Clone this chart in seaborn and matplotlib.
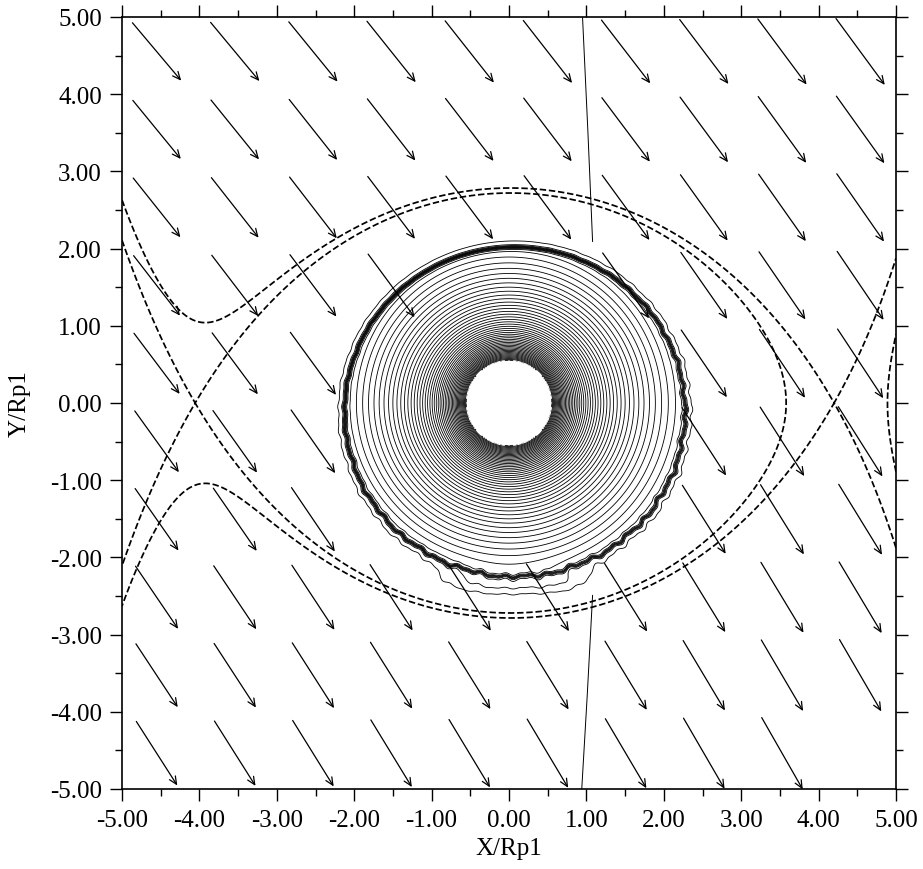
import numpy as np
import seaborn as sns
import matplotlib
matplotlib.use("Agg")
import matplotlib.pyplot as plt
from matplotlib.ticker import MultipleLocator, FormatStrFormatter

# binary system (lengths in planet radii, star sits on the -x side)
orbit_sep = 78.0
mass_ratio = 4.45e-4

# planetary envelope contours
core_radius = 0.55
profile_radius = 2.2
profile_power = -0.6
profile_scale = 36.8
atm_center = (0.075, -0.115)
atm_axes = (2.20, 2.135)
band_jump = 7.0
band_width = 0.012
outer_slope = 14.0
edge_wiggle = 0.005
tail_center = (0.1, -2.34)
tail_size = (1.1, 0.2)
tail_amp = 1.6

# velocity arrows (grid centres and components)
arrow_x = [-4.55, -3.54, -2.53, -1.52, -0.51, 0.50, 1.51, 2.52, 3.53, 4.54]
arrow_y = [4.55, 3.54, 2.53, 1.52, 0.51, -0.50, -1.51, -2.52, -3.53, -4.54]
arrow_u_by_row = [0.63, 0.62, 0.61, 0.60, 0.59, 0.57, 0.56, 0.55, 0.54, 0.53]
arrow_v_by_col = [-0.79, -0.80, -0.815, -0.83, -0.84, -0.85, -0.86, -0.875, -0.89, -0.90]
arrow_v_shift_by_row = [0.04, 0.031, 0.022, 0.013, 0.004, -0.004, -0.013, -0.022, -0.031, -0.04]

# thin boundary line pieces
line_top_x = [0.95, 1.02, 1.08]
line_top_y = [5.0, 3.5, 2.09]
line_bot_x = [1.08, 1.01, 0.94]
line_bot_y = [-2.49, -3.8, -5.0]

sns.set_style("ticks")
plt.rcParams['font.family'] = ['Liberation Serif', 'DejaVu Serif']

fig = plt.figure(figsize=(9.23, 8.70), dpi=100)
ax = fig.add_axes([122 / 923, 80 / 870, 774 / 923, 772 / 870])

gx = np.linspace(-5, 5, 1201)
X, Y = np.meshgrid(gx, gx)
R = np.hypot(X, Y)

# envelope field
dx = (X - atm_center[0]) / atm_axes[0]
dy = (Y - atm_center[1]) / atm_axes[1]
rho = np.hypot(dx, dy)
theta = np.arctan2(dy, dx)
rough = 0.6 * (1 - np.sin(theta)) + 0.5 * np.clip(np.cos(theta), 0, 1)
edge = 1 + edge_wiggle * (np.sin(47 * theta) + 0.7 * np.sin(83 * theta + 1.0)
                          + 0.5 * np.sin(19 * theta + 2.0)) * rough
smooth = profile_scale * ((np.maximum(R, 0.3) / profile_radius) ** profile_power - 1)
S = 0.5 * (1 - np.tanh((rho - edge) / band_width))
tail = tail_amp * np.exp(-((X - tail_center[0]) / tail_size[0]) ** 4
                         - ((Y - tail_center[1]) / tail_size[1]) ** 2)
field = (smooth + band_jump) * S - outer_slope * (rho - edge) * (1 - S) + tail
field = np.ma.masked_where(R < core_radius, field)
levels = np.arange(-0.5, float(field.max()) + 1, 1.0)
ax.contour(X, Y, field, levels=levels, colors='k', linewidths=0.6,
           linestyles='solid', zorder=1)

# Roche potential in the co-rotating frame
def roche(x, y):
    d_star = np.hypot(x + orbit_sep, y)
    d_pl = np.maximum(np.hypot(x, y), 1e-3)
    omega2 = (1 + mass_ratio) / orbit_sep ** 3
    x_cm = -orbit_sep / (1 + mass_ratio)
    return -1 / d_star - mass_ratio / d_pl - 0.5 * omega2 * ((x - x_cm) ** 2 + y ** 2)

xl = np.linspace(-8, -1, 20001)
xr = np.linspace(1, 8, 20001)
phi_l1 = roche(xl, 0 * xl).max()
phi_l2 = roche(xr, 0 * xr).max()
phi = roche(X, Y)
ax.contour(X, Y, phi, levels=sorted([phi_l1, phi_l2]), colors='k',
           linewidths=1.25, linestyles='--', zorder=2)

sns.lineplot(x=line_top_x, y=line_top_y, sort=False, estimator=None,
             color='k', lw=0.7, ax=ax, zorder=2)
sns.lineplot(x=line_bot_x, y=line_bot_y, sort=False, estimator=None,
             color='k', lw=0.7, ax=ax, zorder=2)

for i, yc in enumerate(arrow_y):
    for j, xc in enumerate(arrow_x):
        r_in = np.hypot((xc - atm_center[0]) / atm_axes[0],
                        (yc - atm_center[1]) / atm_axes[1])
        if r_in < 1.0:
            continue
        u = arrow_u_by_row[i]
        v = arrow_v_by_col[j] + arrow_v_shift_by_row[i]
        ax.annotate('', xy=(xc + u / 2, yc + v / 2), xytext=(xc - u / 2, yc - v / 2),
                    arrowprops=dict(arrowstyle='->,head_length=0.55,head_width=0.25',
                                    lw=0.9, color='k', shrinkA=0, shrinkB=0,
                                    mutation_scale=10),
                    zorder=3)

ax.set_xlim(-5, 5)
ax.set_ylim(-5, 5)
ax.xaxis.set_major_locator(MultipleLocator(1))
ax.yaxis.set_major_locator(MultipleLocator(1))
ax.xaxis.set_minor_locator(MultipleLocator(0.5))
ax.yaxis.set_minor_locator(MultipleLocator(0.5))
ax.xaxis.set_major_formatter(FormatStrFormatter('%.2f'))
ax.yaxis.set_major_formatter(FormatStrFormatter('%.2f'))
ax.tick_params(which='both', direction='out', top=True, right=True,
               color='k', labelsize=18, labelcolor='k')
ax.tick_params(which='major', length=8.5, width=1.0, pad=6)
ax.tick_params(which='minor', length=5, width=1.0)
for s in ax.spines.values():
    s.set_linewidth(1.2)
    s.set_color('k')
ax.set_xlabel('X/Rp1', fontsize=18, labelpad=4, color='k')
ax.set_ylabel('Y/Rp1', fontsize=18, labelpad=14, color='k')

fig.savefig('out.png', dpi=100)
